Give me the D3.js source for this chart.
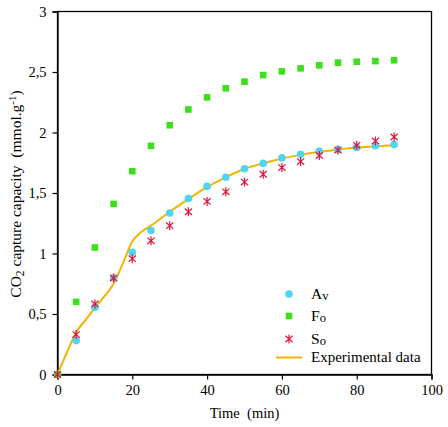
<!DOCTYPE html>
<html><head><meta charset="utf-8">
<script src="https://cdn.jsdelivr.net/npm/d3@7/dist/d3.min.js"></script>
<style>
html,body{margin:0;padding:0;background:#fff;}
</style></head>
<body><svg id="c" width="448" height="427"></svg>
<script>
const timeX = [0,5,10,15,20,25,30,35,40,45,50,55,60,65,70,75,80,85,90];
const avY = [0,0.28,0.555,0.80,1.01,1.19,1.335,1.455,1.555,1.63,1.70,1.745,1.79,1.82,1.845,1.86,1.877,1.89,1.90];
const foY = [0,0.60,1.05,1.41,1.68,1.89,2.06,2.19,2.29,2.365,2.42,2.475,2.505,2.53,2.555,2.577,2.585,2.59,2.597];
const soY = [0,0.33,0.583,0.797,0.957,1.105,1.23,1.345,1.43,1.51,1.59,1.655,1.71,1.76,1.81,1.855,1.894,1.93,1.963];
const expX = [0,2.5,5,7.5,10,12.5,15,17.5,20,22.5,25,30,35,40,45,50,55,60,65,70,75,80,85,90];
const expY = [0,0.18,0.35,0.45,0.55,0.645,0.75,0.92,1.10,1.18,1.23,1.345,1.45,1.55,1.63,1.70,1.745,1.785,1.815,1.84,1.86,1.875,1.885,1.895];
const xTicks = [0,20,40,60,80,100];
const yTicks = [0,0.5,1,1.5,2,2.5,3];

const FONT = "Liberation Serif";
const svg = d3.select("#c");
const L=57.5, R=431.5, T=11.5, B=374.5;
const x = d3.scaleLinear().domain([0,100]).range([L,R]);
const y = d3.scaleLinear().domain([0,3]).range([B,T]);
const fmt = d => String(d).replace(".", ",");

svg.append("rect").attr("x",L).attr("y",T).attr("width",R-L).attr("height",B-T)
  .attr("fill","none").attr("stroke","#000").attr("stroke-width",1.3);

const xa = svg.append("g").attr("transform",`translate(0,${B})`)
  .call(d3.axisBottom(x).tickValues(xTicks).tickSize(5).tickPadding(5).tickFormat(fmt));
const ya = svg.append("g").attr("transform",`translate(${L},0)`)
  .call(d3.axisLeft(y).tickValues(yTicks).tickSize(5).tickPadding(6).tickFormat(fmt));
[xa,ya].forEach(a=>{
  a.attr("font-family",FONT).attr("font-size",14.5);
  a.select(".domain").attr("stroke","#000").attr("stroke-width",1.3);
  a.selectAll(".tick line").attr("stroke","#000").attr("stroke-width",1.2);
  a.selectAll(".tick text").attr("font-family",FONT).attr("font-size",14.5).attr("fill","#000");
});

const exp = expX.map((d,i)=>[d,expY[i]]);
svg.append("path").datum(exp)
  .attr("d", d3.line().x(d=>x(d[0])).y(d=>y(d[1])).curve(d3.curveMonotoneX))
  .attr("fill","none").attr("stroke","#F2B400").attr("stroke-width",2);

const COL_A="#50D4F4", COL_F="#3CE01A", COL_S="#E0143C";
svg.append("g").selectAll("circle").data(timeX.map((d,i)=>[d,avY[i]])).join("circle")
  .attr("cx",d=>x(d[0])).attr("cy",d=>y(d[1])).attr("r",3.8).attr("fill",COL_A);
svg.append("g").selectAll("rect").data(timeX.map((d,i)=>[d,foY[i]])).join("rect")
  .attr("x",d=>x(d[0])-3.3).attr("y",d=>y(d[1])-3.3).attr("width",6.6).attr("height",6.6).attr("fill",COL_F);
const star = "M0,-4.5V4.5M-3.6,-3.2L3.6,3.2M-3.6,3.2L3.6,-3.2";
svg.append("g").selectAll("path").data(timeX.map((d,i)=>[d,soY[i]])).join("path")
  .attr("transform",d=>`translate(${x(d[0])},${y(d[1])})`).attr("d",star)
  .attr("stroke",COL_S).attr("stroke-width",1.2).attr("fill","none");

const lg = svg.append("g").attr("font-family",FONT);
lg.append("circle").attr("cx",289).attr("cy",294).attr("r",3.8).attr("fill",COL_A);
lg.append("rect").attr("x",285.7).attr("y",312.7).attr("width",6.6).attr("height",6.6).attr("fill",COL_F);
lg.append("path").attr("transform","translate(289,339)").attr("d",star).attr("stroke",COL_S).attr("stroke-width",1.2).attr("fill","none");
lg.append("line").attr("x1",276).attr("x2",302).attr("y1",357.5).attr("y2",357.5).attr("stroke","#F2B400").attr("stroke-width",2);
function sub(big,small,yy){
  const tx = lg.append("text").attr("x",311).attr("y",yy).attr("font-family",FONT).attr("font-size",15.5);
  tx.append("tspan").text(big);
  tx.append("tspan").text(small).attr("font-size",12.5).attr("dy",1);
}
sub("A","v",299);
sub("F","o",321);
sub("S","o",344);
lg.append("text").attr("x",311).attr("y",362).attr("font-family",FONT).attr("font-size",15).text("Experimental data");

svg.append("text").attr("x",(L+R)/2).attr("y",418).attr("text-anchor","middle").attr("font-family",FONT).attr("font-size",14.5)
  .style("white-space","pre").text("Time  (min)");
const yt = svg.append("text").attr("transform",`translate(21,${(T+B)/2+1}) rotate(-90)`).attr("text-anchor","middle")
  .attr("font-family",FONT).attr("font-size",15.5).style("white-space","pre");
yt.append("tspan").text("CO");
yt.append("tspan").text("2").attr("font-size",11.5).attr("dy",3);
yt.append("tspan").text(" capture capacity  (mmol.g").attr("dy",-3);
yt.append("tspan").text("-1").attr("font-size",11).attr("dy",-5);
yt.append("tspan").text(")").attr("dy",5);
</script></body></html>
